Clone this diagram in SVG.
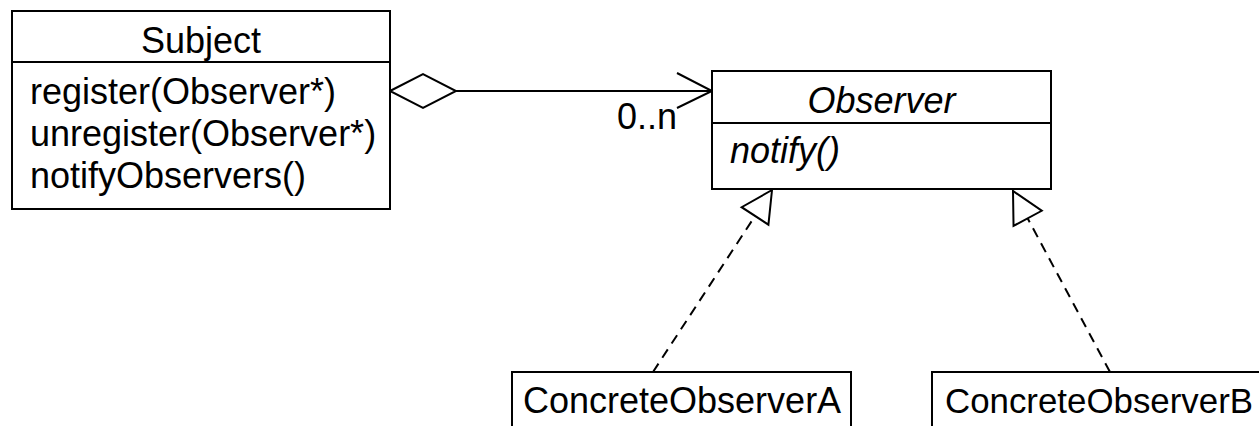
<svg xmlns="http://www.w3.org/2000/svg" width="1259" height="426" viewBox="0 0 1259 426">
  <style>
    .box { fill: #fff; stroke: #000; stroke-width: 2; }
    .sep { stroke: #000; stroke-width: 2; }
    text { font-family: "Liberation Sans", Arial, sans-serif; font-size: 36px; fill: #000; }
    .mid { text-anchor: middle; }
    .it { font-style: italic; }
    .link { fill: none; stroke: #000; stroke-width: 2; }
    .dash { stroke-dasharray: 10 7; }
    .head { stroke: #000; stroke-width: 2; stroke-dasharray: none; stroke-linejoin: miter; }
  </style>
  <defs>
    <marker id="diamond" markerUnits="userSpaceOnUse" markerWidth="80" markerHeight="40" viewBox="-2 -20 72 40" refX="0" refY="0" orient="auto" overflow="visible">
      <path class="head" d="M0,0 L33,-17 L66,0 L33,17 Z" fill="#fff"/>
    </marker>
    <marker id="open" markerUnits="userSpaceOnUse" markerWidth="40" markerHeight="40" viewBox="-38 -20 40 40" refX="0" refY="0" orient="auto" overflow="visible">
      <path class="head" d="M-35,-18 L0,0 L-35,17" fill="none"/>
    </marker>
    <marker id="tri" markerUnits="userSpaceOnUse" markerWidth="40" markerHeight="40" viewBox="-34 -20 40 40" refX="0" refY="0" orient="auto" overflow="visible">
      <path class="head" d="M0,0 L-31,-16 L-31,16 Z" fill="#fff"/>
    </marker>
  </defs>

  <g id="connectors">
    <path class="link" d="M390,91 L712,91" marker-start="url(#diamond)" marker-end="url(#open)"/>
    <text x="617" y="129">0..n</text>
    <path class="link dash" d="M653,372 L772,190" marker-end="url(#tri)"/>
    <path class="link dash" d="M1110,372 L1013,191" marker-end="url(#tri)"/>
  </g>

  <g id="subject">
    <rect class="box" x="12" y="11" width="378" height="198"/>
    <line class="sep" x1="12" y1="62" x2="390" y2="62"/>
    <text class="mid" x="201" y="53">Subject</text>
    <text x="30" y="104">register(Observer*)</text>
    <text x="30" y="146">unregister(Observer*)</text>
    <text x="30" y="188">notifyObservers()</text>
  </g>

  <g id="observer">
    <rect class="box" x="712" y="71" width="339" height="118"/>
    <line class="sep" x1="712" y1="123" x2="1051" y2="123"/>
    <text class="mid it" x="881.5" y="113">Observer</text>
    <text class="it" x="730" y="163">notify()</text>
  </g>

  <g id="concrete-observer-a">
    <rect class="box" x="512" y="372" width="339" height="80"/>
    <text x="523" y="413">ConcreteObserverA</text>
  </g>

  <g id="concrete-observer-b">
    <rect class="box" x="932" y="372" width="360" height="80"/>
    <text x="945" y="413" style="font-size:34.5px" textLength="308" lengthAdjust="spacingAndGlyphs">ConcreteObserverB</text>
  </g>
</svg>
